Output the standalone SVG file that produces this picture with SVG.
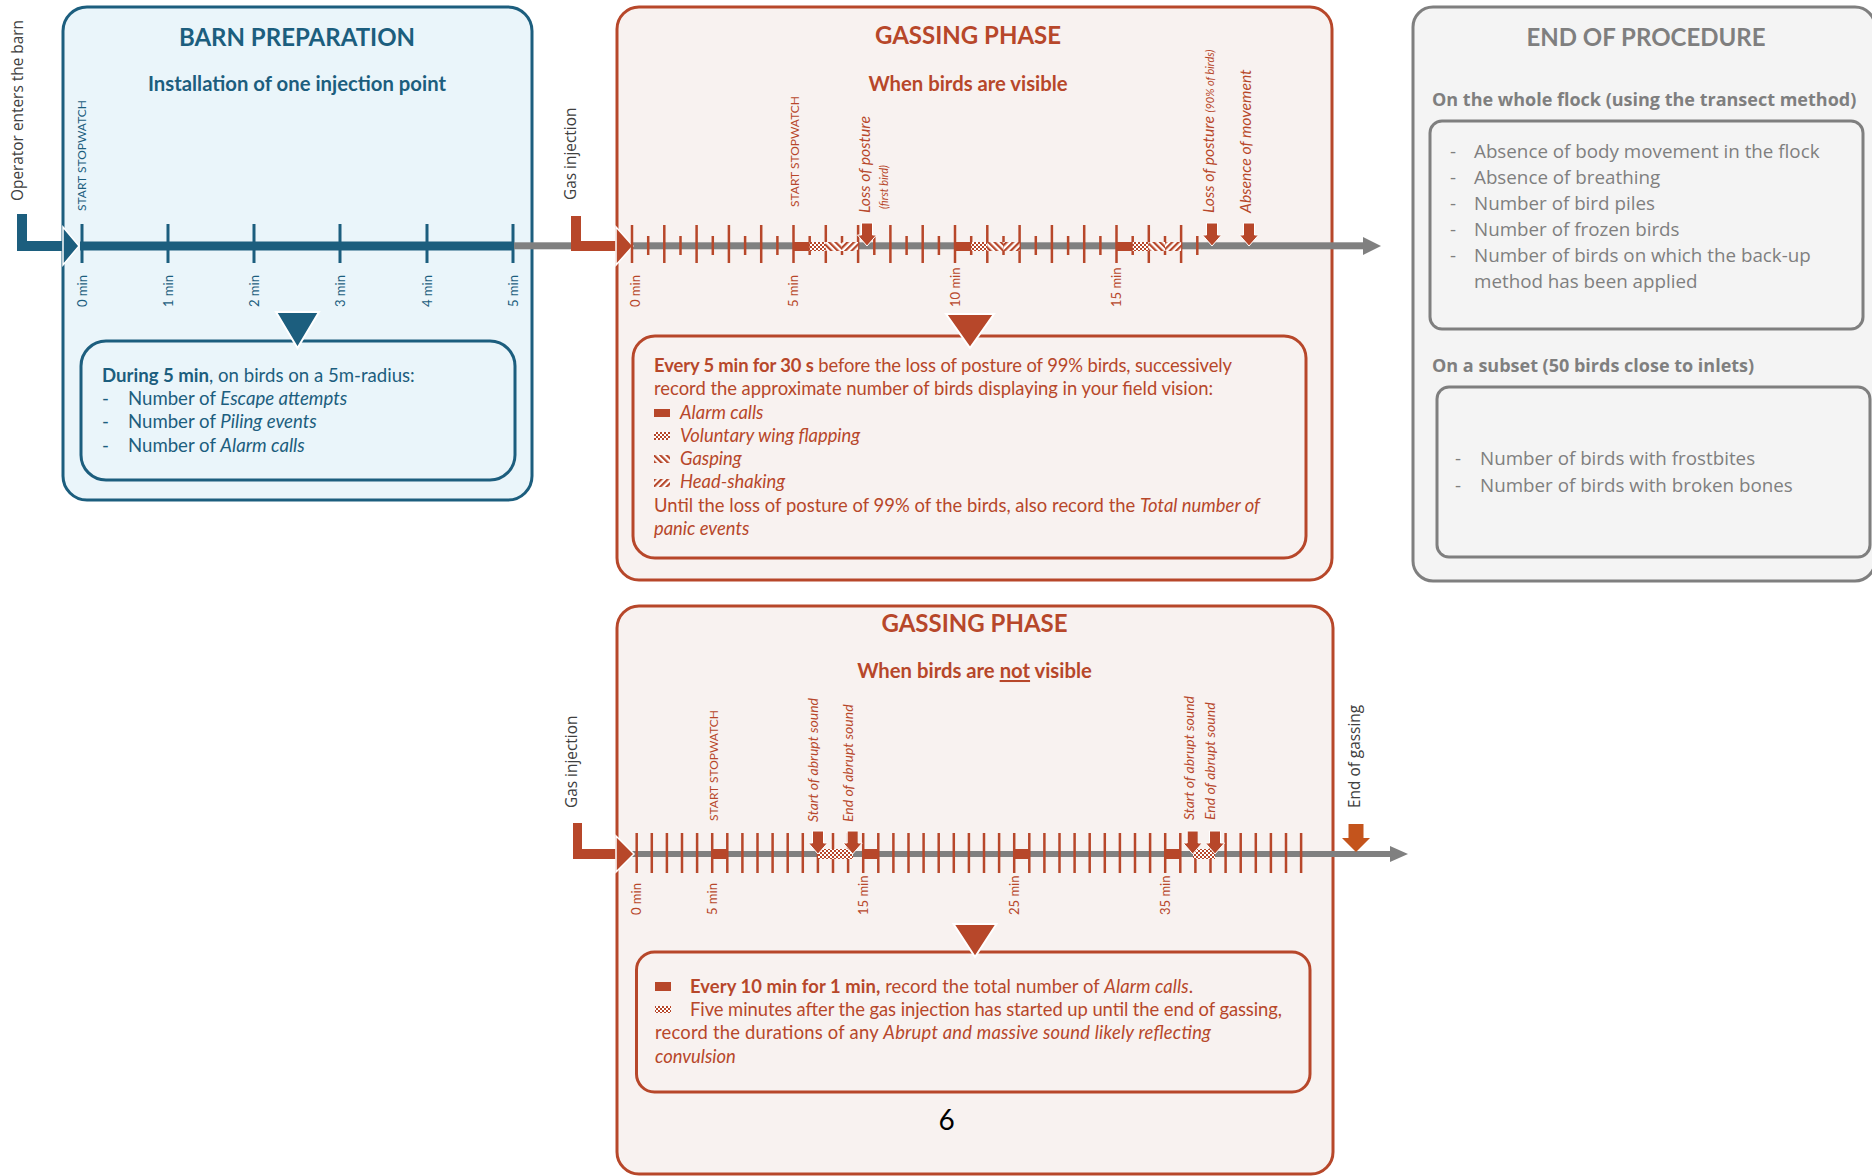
<svg xmlns="http://www.w3.org/2000/svg" xmlns:xlink="http://www.w3.org/1999/xlink" width="1872" height="1176" viewBox="0 0 1872 1176">
<style>
.lato{font-family:Lato,"Liberation Sans",sans-serif}
.os{font-family:"Open Sans","Liberation Sans",sans-serif}
.blue{fill:#1c5e7e}
.org{fill:#b7472a}
.grey{fill:#7f7f7f}
.dark{fill:#404040}
.b{font-weight:bold}
.i{font-style:italic}
.title{font-family:Lato,"Liberation Sans",sans-serif;font-weight:bold;font-size:24px;text-anchor:middle}
.sub{font-family:Lato,"Liberation Sans",sans-serif;font-weight:bold;font-size:20.3px;text-anchor:middle}
.tick{font-family:Lato,"Liberation Sans",sans-serif;font-size:13px}
.sw{font-family:Lato,"Liberation Sans",sans-serif;font-size:12px}
.ev{font-family:Lato,"Liberation Sans",sans-serif;font-style:italic;font-size:15.7px}
.ab{font-family:Lato,"Liberation Sans",sans-serif;font-style:italic;font-size:14px}
.body{font-family:Lato,"Liberation Sans",sans-serif;font-size:18.4px}
.bbody{font-family:Lato,"Liberation Sans",sans-serif;font-size:18.6px}
.eop{font-family:"Open Sans","Liberation Sans",sans-serif;font-size:18.8px}
.eoph{font-family:"Open Sans","Liberation Sans",sans-serif;font-size:18px;font-weight:bold}
.side{font-family:"Open Sans","Liberation Sans",sans-serif;font-size:15.4px}
</style>
<defs>
<pattern id="checker" width="4" height="4" patternUnits="userSpaceOnUse"><rect width="4" height="4" fill="#ffffff"/><rect width="2" height="2" fill="#b7472a"/><rect x="2" y="2" width="2" height="2" fill="#b7472a"/></pattern>
<pattern id="gasp" width="4.5" height="4.5" patternUnits="userSpaceOnUse" patternTransform="rotate(-45)"><rect width="4.5" height="4.5" fill="#ffffff"/><rect width="2.2" height="4.5" fill="#b7472a"/></pattern>
<pattern id="shake" width="4.5" height="4.5" patternUnits="userSpaceOnUse" patternTransform="rotate(45)"><rect width="4.5" height="4.5" fill="#ffffff"/><rect width="2.2" height="4.5" fill="#b7472a"/></pattern>
<path id="darr" d="M-5.5 0H5.5V12H9.5L0 23L-9.5 12H-5.5Z" fill="#b7472a" stroke="#ffffff" stroke-width="1"/>
</defs>

<!-- Barn preparation -->
<g id="barn-preparation">
<rect x="63" y="7" width="469" height="493" rx="24" fill="#eaf5fa" stroke="#1c5e7e" stroke-width="3"/>
<text class="title blue" x="297" y="46">BARN PREPARATION</text>
<text class="sub blue" x="297" y="91">Installation of one injection point</text>
<text class="sw blue" transform="translate(86,211) rotate(-90)">START STOPWATCH</text>
<rect x="80" y="241.5" width="434" height="9" fill="#1c5e7e"/>
<path d="M82 224V263M168 224V263M254 224V263M340 224V263M427 224V263M513 224V263" stroke="#1c5e7e" stroke-width="3"/>
<g class="tick blue">
<text transform="translate(86.5,307) rotate(-90)">0 min</text>
<text transform="translate(172.5,307) rotate(-90)">1 min</text>
<text transform="translate(258.5,307) rotate(-90)">2 min</text>
<text transform="translate(344.5,307) rotate(-90)">3 min</text>
<text transform="translate(431.5,307) rotate(-90)">4 min</text>
<text transform="translate(517.5,307) rotate(-90)">5 min</text>
</g>
<rect x="81" y="341" width="434" height="139" rx="25" fill="#eaf5fa" stroke="#1c5e7e" stroke-width="3"/>
<polygon points="276,312 319,312 297.5,348" fill="#1c5e7e" stroke="#ffffff" stroke-width="2"/>
<text class="bbody blue" x="102" y="382"><tspan class="b">During 5 min</tspan>, on birds on a 5m-radius:</text>
<text class="bbody blue" x="102" y="405">-</text>
<text class="bbody blue" x="128" y="405">Number of <tspan class="i">Escape attempts</tspan></text>
<text class="bbody blue" x="102" y="428">-</text>
<text class="bbody blue" x="128" y="428">Number of <tspan class="i">Piling events</tspan></text>
<text class="bbody blue" x="102" y="452">-</text>
<text class="bbody blue" x="128" y="452">Number of <tspan class="i">Alarm calls</tspan></text>
</g>

<!-- Gassing phase, birds visible -->
<g id="gassing-visible">
<rect x="617" y="7" width="715" height="573" rx="22" fill="#f8f2f0" stroke="#b7472a" stroke-width="3"/>
<text class="title org" x="968" y="44">GASSING PHASE</text>
<text class="sub org" x="968" y="91">When birds are visible</text>
<rect x="633" y="336" width="673" height="222" rx="22" fill="#f8f2f0" stroke="#b7472a" stroke-width="3"/>
<polygon points="946,314 994,314 970,348" fill="#b7472a" stroke="#ffffff" stroke-width="2"/>
<text class="body org" x="654" y="372" textLength="578"><tspan class="b">Every 5 min for 30 s</tspan> before the loss of posture of 99% birds, successively</text>
<text class="body org" x="654" y="395" textLength="559">record the approximate number of birds displaying in your field vision:</text>
<rect x="654" y="409" width="16" height="8" fill="#b7472a"/>
<text class="body org i" x="680" y="419">Alarm calls</text>
<rect x="654" y="432" width="16" height="8" fill="url(#checker)"/>
<text class="body org i" x="680" y="442">Voluntary wing flapping</text>
<rect x="654" y="455" width="16" height="8" fill="url(#gasp)"/>
<text class="body org i" x="680" y="465">Gasping</text>
<rect x="654" y="479" width="16" height="8" fill="url(#shake)"/>
<text class="body org i" x="680" y="488">Head-shaking</text>
<text class="body org" x="654" y="512" textLength="606">Until the loss of posture of 99% of the birds, also record the <tspan class="i">Total number of</tspan></text>
<text class="body org i" x="654" y="535">panic events</text>
</g>

<!-- End of procedure -->
<g id="end-of-procedure">
<rect x="1413" y="7" width="462" height="574" rx="20" fill="#f4f4f4" stroke="#7f7f7f" stroke-width="3"/>
<text class="title grey" x="1646" y="46" font-size="23">END OF PROCEDURE</text>
<text class="eoph grey" x="1432" y="106">On the whole flock (using the transect method)</text>
<rect x="1430" y="121" width="433" height="208" rx="12" fill="#f4f4f4" stroke="#7f7f7f" stroke-width="3"/>
<g class="eop grey">
<text x="1450" y="158">-</text><text x="1474" y="158">Absence of body movement in the flock</text>
<text x="1450" y="184">-</text><text x="1474" y="184">Absence of breathing</text>
<text x="1450" y="210">-</text><text x="1474" y="210">Number of bird piles</text>
<text x="1450" y="236">-</text><text x="1474" y="236">Number of frozen birds</text>
<text x="1450" y="262">-</text><text x="1474" y="262">Number of birds on which the back-up</text>
<text x="1474" y="288">method has been applied</text>
</g>
<text class="eoph grey" x="1432" y="372">On a subset (50 birds close to inlets)</text>
<rect x="1437" y="387" width="433" height="170" rx="12" fill="#f4f4f4" stroke="#7f7f7f" stroke-width="3"/>
<g class="eop grey">
<text x="1455" y="465">-</text><text x="1480" y="465">Number of birds with frostbites</text>
<text x="1455" y="492">-</text><text x="1480" y="492">Number of birds with broken bones</text>
</g>
</g>

<!-- Gassing phase, birds not visible -->
<g id="gassing-not-visible">
<rect x="617" y="606" width="716" height="568" rx="22" fill="#f8f2f0" stroke="#b7472a" stroke-width="3"/>
<text class="title org" x="974.5" y="632">GASSING PHASE</text>
<text class="sub org" x="974.5" y="678">When birds are <tspan text-decoration="underline">not</tspan> visible</text>
<rect x="636.5" y="952" width="673.5" height="140" rx="18" fill="#f8f2f0" stroke="#b7472a" stroke-width="3"/>
<polygon points="953.5,924 996.5,924 975,957" fill="#b7472a" stroke="#ffffff" stroke-width="2"/>
<rect x="655" y="982" width="16" height="9" fill="#b7472a"/>
<text class="body org" x="690" y="993" textLength="503"><tspan class="b">Every 10 min for 1 min,</tspan> record the total number of <tspan class="i">Alarm calls</tspan>.</text>
<rect x="655" y="1006" width="16" height="7" fill="url(#checker)"/>
<text class="body org" x="690" y="1016" textLength="592">Five minutes after the gas injection has started up until the end of gassing,</text>
<text class="body org" x="655" y="1039" textLength="556">record the durations of any <tspan class="i">Abrupt and massive sound likely reflecting</tspan></text>
<text class="body org i" x="655" y="1063">convulsion</text>
<text class="lato" x="946.5" y="1130" font-size="28" text-anchor="middle" fill="#000000">6</text>
</g>

<!-- Side labels -->
<g id="labels">
<text class="side dark" transform="translate(23,201) rotate(-90)">Operator enters the barn</text>
<text class="side dark" transform="translate(576,200) rotate(-90)">Gas injection</text>
<text class="side dark" transform="translate(577,808) rotate(-90)">Gas injection</text>
<text class="side dark" transform="translate(1360,808) rotate(-90)">End of gassing</text>
</g>

<!-- Connectors / timelines -->
<g id="connectors">
<path d="M17 214H27V241H64V251H17Z" fill="#1c5e7e"/>
<polygon points="63,227 79,246 63,265" fill="#1c5e7e" stroke="#ffffff" stroke-width="1.5"/>

<rect x="514" y="242.3" width="849" height="7" fill="#808080"/>
<polygon points="1363,237 1381,246 1363,255" fill="#808080"/>
<path d="M571 216H581V241H617V251H571Z" fill="#b7472a"/>
<polygon points="616,227 633,246 616,265" fill="#b7472a" stroke="#ffffff" stroke-width="1.5"/>
<path stroke="#b7472a" stroke-width="2.5" d="M632 225V263M664.3 225V263M696.6 225V263M728.9 225V263M761.2 225V263M793.5 225V263M825.8 225V263M858.1 225V263M890.4 225V263M922.7 225V263M955 225V263M987.3 225V263M1019.6 225V263M1051.9 225V263M1084.2 225V263M1116.5 225V263M1148.8 225V263M1181.1 225V263
M648.2 236V255M680.5 236V255M712.8 236V255M745.1 236V255M777.4 236V255M809.7 236V255M842 236V255M874.3 236V255M906.6 236V255M938.9 236V255M971.2 236V255M1003.5 236V255M1035.8 236V255M1068.1 236V255M1100.4 236V255M1132.7 236V255M1165 236V255M1197.3 236V255"/>
<rect x="793.5" y="242" width="16.2" height="9" fill="#b7472a"/>
<rect x="809.7" y="242" width="16.1" height="9" fill="url(#checker)"/>
<rect x="825.8" y="242" width="16.2" height="9" fill="url(#gasp)"/>
<rect x="842" y="242" width="16.1" height="9" fill="url(#shake)"/>
<rect x="955" y="242" width="16.2" height="9" fill="#b7472a"/>
<rect x="971.2" y="242" width="16.1" height="9" fill="url(#checker)"/>
<rect x="987.3" y="242" width="16.2" height="9" fill="url(#gasp)"/>
<rect x="1003.5" y="242" width="16.1" height="9" fill="url(#shake)"/>
<rect x="1116.5" y="242" width="16.2" height="9" fill="#b7472a"/>
<rect x="1132.7" y="242" width="16.1" height="9" fill="url(#checker)"/>
<rect x="1148.8" y="242" width="16.2" height="9" fill="url(#gasp)"/>
<rect x="1165" y="242" width="16.1" height="9" fill="url(#shake)"/>
<use xlink:href="#darr" transform="translate(867,223)"/>
<use xlink:href="#darr" transform="translate(1212,223)"/>
<use xlink:href="#darr" transform="translate(1249,223)"/>

<rect x="582" y="851" width="808" height="6" fill="#808080"/>
<polygon points="1390,846 1408,854 1390,862" fill="#808080"/>
<path d="M573 823H582V849H617V859H573Z" fill="#b7472a"/>
<polygon points="616,836 634,854 616,872" fill="#b7472a" stroke="#ffffff" stroke-width="1.5"/>
<path stroke="#b7472a" stroke-width="2.5" d="M636.7 833V873M651.8 833V873M666.9 833V873M682 833V873M697.1 833V873M712.2 833V873M727.3 833V873M742.4 833V873M757.5 833V873M772.6 833V873M787.7 833V873M802.8 833V873M817.9 833V873M833 833V873M848.1 833V873M863.2 833V873M878.3 833V873M893.4 833V873M908.5 833V873M923.6 833V873M938.7 833V873M953.8 833V873M968.9 833V873M984 833V873M999.1 833V873M1014.2 833V873M1029.3 833V873M1044.4 833V873M1059.5 833V873M1074.6 833V873M1089.7 833V873M1104.8 833V873M1119.9 833V873M1135 833V873M1150.1 833V873M1165.2 833V873M1180.3 833V873M1195.4 833V873M1210.5 833V873M1225.6 833V873M1240.7 833V873M1255.8 833V873M1270.9 833V873M1286 833V873M1301.1 833V873"/>
<rect x="712.2" y="849" width="15.1" height="10" fill="#b7472a"/>
<rect x="863.2" y="849" width="15.1" height="10" fill="#b7472a"/>
<rect x="1014.2" y="849" width="15.1" height="10" fill="#b7472a"/>
<rect x="1165.2" y="849" width="15.1" height="10" fill="#b7472a"/>
<rect x="818" y="849" width="35" height="10" fill="url(#checker)"/>
<rect x="1193" y="849" width="22" height="10" fill="url(#checker)"/>
<use xlink:href="#darr" transform="translate(818,831)"/>
<use xlink:href="#darr" transform="translate(852.7,831)"/>
<use xlink:href="#darr" transform="translate(1192.7,831)"/>
<use xlink:href="#darr" transform="translate(1215,831)"/>
<path d="M1348.5 824H1363.5V838H1370L1356 852L1342 838H1348.5Z" fill="#c4541c"/>
</g>

<!-- Timeline annotations -->
<g id="timeline-labels">
<text class="sw org" transform="translate(799,207) rotate(-90)">START STOPWATCH</text>
<text class="ev org" transform="translate(870,213) rotate(-90)">Loss of posture</text>
<text class="lato org i" font-size="11" transform="translate(888,209) rotate(-90)">(first bird)</text>
<text class="ev org" transform="translate(1214,213) rotate(-90)">Loss of posture <tspan font-size="11">(90% of birds)</tspan></text>
<text class="ev org" transform="translate(1251,213) rotate(-90)">Absence of movement</text>
<g class="tick org">
<text transform="translate(640,307) rotate(-90)">0 min</text>
<text transform="translate(798,307) rotate(-90)">5 min</text>
<text transform="translate(960,307) rotate(-90)">10 min</text>
<text transform="translate(1120.5,307) rotate(-90)">15 min</text>
<text transform="translate(641,915) rotate(-90)">0 min</text>
<text transform="translate(717,915) rotate(-90)">5 min</text>
<text transform="translate(867.5,915) rotate(-90)">15 min</text>
<text transform="translate(1019,915) rotate(-90)">25 min</text>
<text transform="translate(1170,915) rotate(-90)">35 min</text>
</g>
<text class="sw org" transform="translate(717.5,821) rotate(-90)">START STOPWATCH</text>
<text class="ab org" transform="translate(818,822) rotate(-90)">Start of abrupt sound</text>
<text class="ab org" transform="translate(853,822) rotate(-90)">End of abrupt sound</text>
<text class="ab org" transform="translate(1193.5,820) rotate(-90)">Start of abrupt sound</text>
<text class="ab org" transform="translate(1215,820) rotate(-90)">End of abrupt sound</text>
</g>
</svg>
